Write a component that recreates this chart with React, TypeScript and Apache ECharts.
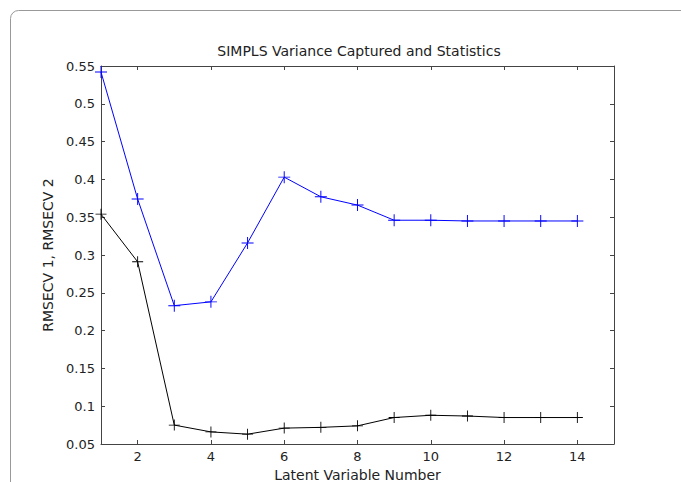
import React, { useEffect, useRef } from "react";
import * as echarts from "echarts";

const latentVars = [1, 2, 3, 4, 5, 6, 7, 8, 9, 10, 11, 12, 13, 14];
const rmsecv1 = [0.542, 0.374, 0.233, 0.238, 0.316, 0.403, 0.377, 0.366, 0.346, 0.346, 0.345, 0.345, 0.345, 0.345];
const rmsecv2 = [0.354, 0.291, 0.075, 0.066, 0.063, 0.071, 0.072, 0.074, 0.085, 0.088, 0.087, 0.085, 0.085, 0.085];
const xTicks = [2, 4, 6, 8, 10, 12, 14];

const plusPath =
  "path://M0.46,0H0.54V0.46H1V0.54H0.54V1H0.46V0.54H0V0.46H0.46Z";

export default function App() {
  const ref = useRef<HTMLDivElement>(null);
  useEffect(() => {
    if (!ref.current) return;
    const chart = echarts.init(ref.current, null, { renderer: "svg" });
    const axisColor = "#444";
    const textStyle = { color: "#222", fontFamily: "DejaVu Sans", fontSize: 13 };
    const nameStyle = { ...textStyle, fontSize: 14 };
    const baseX = {
      type: "value",
      min: 1,
      max: 15,
      axisLine: { show: true, onZero: false, lineStyle: { color: axisColor, width: 1 } },
      axisTick: { show: true, inside: true, length: 4, customValues: xTicks, lineStyle: { color: axisColor } },
      splitLine: { show: false },
    };
    const baseY = {
      type: "value",
      min: 0.05,
      max: 0.55,
      interval: 0.05,
      axisLine: { show: true, onZero: false, lineStyle: { color: axisColor, width: 1 } },
      axisTick: { show: true, inside: true, length: 4, lineStyle: { color: axisColor } },
      splitLine: { show: false },
    };
    chart.setOption({
      animation: false,
      backgroundColor: "#fff",
      title: {
        text: "SIMPLS Variance Captured and Statistics",
        left: 354,
        textAlign: "center",
        top: 39,
        textStyle: { ...nameStyle, fontWeight: "normal" },
      },
      grid: { left: 101, top: 66, right: 67, bottom: 38, containLabel: false, outerBoundsMode: "none" },
      xAxis: [
        {
          ...baseX,
          position: "bottom",
          name: "Latent Variable Number",
          nameLocation: "middle",
          nameGap: 24,
          nameTextStyle: nameStyle,
          axisLabel: { ...textStyle, margin: 6, customValues: xTicks },
        },
        { ...baseX, position: "top", axisLabel: { show: false } },
      ],
      yAxis: [
        {
          ...baseY,
          position: "left",
          name: "RMSECV 1, RMSECV 2",
          nameLocation: "middle",
          nameGap: 44,
          nameTextStyle: nameStyle,
          axisLabel: {
            ...textStyle,
            margin: 6,
            formatter: (v: number) => String(Math.round(v * 100) / 100),
          },
        },
        { ...baseY, position: "right", axisLabel: { show: false } },
      ],
      graphic: [
        {
          type: "rect",
          shape: { x: 10.5, y: 10.5, width: 900, height: 700, r: 8 },
          style: { fill: "none", stroke: "#999", lineWidth: 1 },
          silent: true,
          z: -10,
        },
      ],
      series: [
        {
          type: "line",
          data: latentVars.map((x, i) => [x, rmsecv1[i]]),
          symbol: plusPath,
          symbolSize: 12,
          lineStyle: { color: "#0000ff", width: 1 },
          itemStyle: { color: "#0000ff" },
        },
        {
          type: "line",
          data: latentVars.map((x, i) => [x, rmsecv2[i]]),
          symbol: plusPath,
          symbolSize: 11,
          lineStyle: { color: "#000", width: 1 },
          itemStyle: { color: "#000" },
        },
      ],
    });
    return () => chart.dispose();
  }, []);
  return (
    <div
      ref={ref}
      style={{ position: "fixed", left: 0, top: 0, width: 681, height: 482, background: "#fff" }}
    />
  );
}
